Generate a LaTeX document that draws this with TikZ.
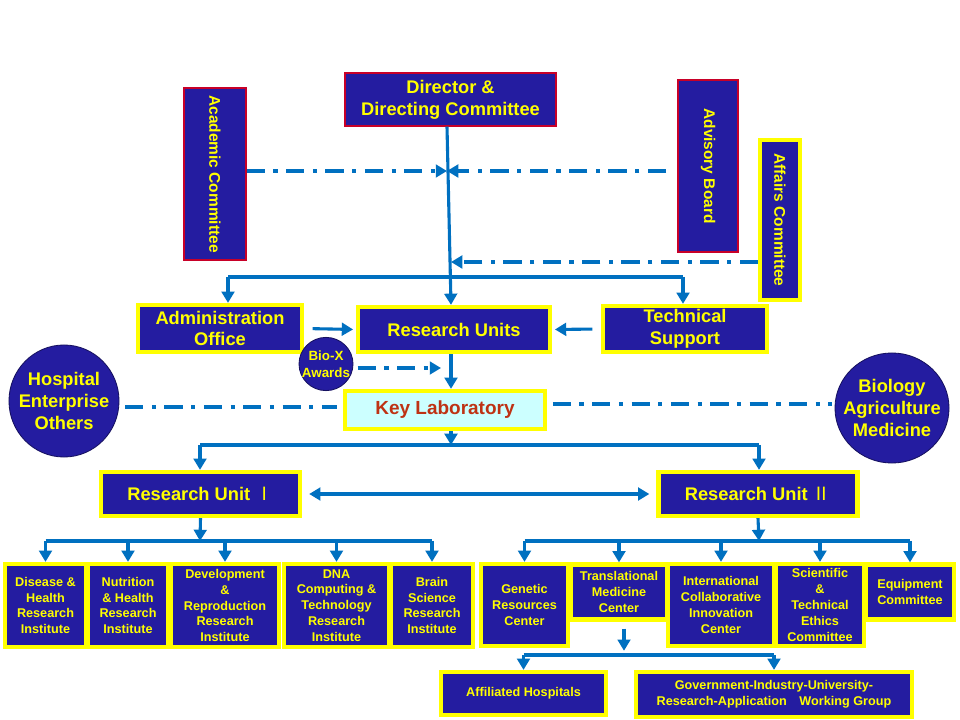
\documentclass[tikz,border=0pt]{standalone}
\usepackage{fontspec}
\setmainfont{Liberation Sans}
\newfontfamily\cjk{Noto Sans CJK SC}
\usetikzlibrary{arrows.meta,shapes.geometric}

\definecolor{boxblue}{RGB}{36,28,160}
\definecolor{boxyel}{RGB}{255,255,0}
\definecolor{boxred}{RGB}{200,0,40}
\definecolor{lineblue}{RGB}{0,112,192}
\definecolor{keycyan}{RGB}{204,255,255}
\definecolor{keyred}{RGB}{190,50,20}

\tikzset{
  blk/.style={draw=boxyel, line width=3pt, fill=boxblue, text=boxyel, align=center,
    inner sep=1pt, font=\bfseries\fontsize{13}{15.5}\selectfont},
  redblk/.style={blk, draw=boxred, line width=1pt},
  smallblk/.style={blk, font=\bfseries\fontsize{9}{11.3}\selectfont},
  sideblk/.style={blk, rotate=-90, font=\bfseries\fontsize{11}{13}\selectfont},
  oval/.style={blk, ellipse, draw=boxblue!60!black, line width=0.6pt, inner sep=-6pt},
  conn/.style={draw=lineblue, line width=2.2pt, line join=round},
  arr/.style={conn, -{Triangle[width=9pt,length=8pt]}},
  dualarr/.style={conn, {Triangle[width=9pt,length=8pt]}-{Triangle[width=9pt,length=8pt]}},
  dashdot/.style={draw=lineblue, line width=2.6pt, dash pattern=on 13pt off 6pt on 3pt off 6pt},
}

\begin{document}
\begin{tikzpicture}[x=0.025cm,y=-0.025cm]
		%%%%% START %%%%%
		\useasboundingbox[fill=white] (0,0) rectangle (960,720);
		
		% top level
		\node[redblk, minimum width=5.275cm, minimum height=1.325cm] (dir) at (450.5,99.5) {Director \&\\Directing Committee};
		\node[sideblk, draw=boxred, line width=1pt, minimum width=4.3cm, minimum height=1.55cm] (acad) at (215,174) {Academic Committee};
		\node[sideblk, draw=boxred, line width=1pt, minimum width=4.3cm, minimum height=1.5cm] (advb) at (708,166) {Advisory Board};
		\node[sideblk, minimum width=4.0cm, minimum height=1.0cm] (affc) at (780,220) {Affairs Committee};
		
		\node[blk, minimum width=4.1cm, minimum height=1.175cm] (adm) at (220,328.5) {Administration\\Office};
		\node[blk, minimum width=4.8cm, minimum height=1.125cm] (ru) at (454,329.5) {Research Units};
		\node[blk, minimum width=4.1cm, minimum height=1.15cm] (tech) at (685,329) {Technical\\Support};
		
		\node[oval, font=\bfseries\fontsize{9.5}{12}\selectfont, inner sep=-14pt, minimum width=1.35cm, minimum height=1.33cm] (biox) at (326,364) {Bio-X\\Awards};
		\node[oval, minimum width=2.75cm, minimum height=2.8cm] (hosp) at (64,401) {Hospital\\Enterprise\\Others};
		\node[oval, minimum width=2.8cm, minimum height=2.75cm] (bioa) at (892,408) {Biology\\Agriculture\\Medicine};
		
		\node[blk, fill=keycyan, text=keyred, font=\bfseries\fontsize{13.5}{16}\selectfont, minimum width=5.0cm, minimum height=0.95cm] (keylab) at (445,410) {Key Laboratory};
		
		\node[blk, minimum width=4.975cm, minimum height=1.1cm] (rui) at (200.5,494) {Research Unit~{\cjk\mdseries Ⅰ}};
		\node[blk, minimum width=4.975cm, minimum height=1.1cm] (ruii) at (758,494) {Research Unit~{\cjk\mdseries Ⅱ}};
		
		% research unit I
		\node[smallblk, minimum width=2.025cm, minimum height=2.075cm] (dis) at (45.5,605.5) {Disease \&\\Health\\Research\\Institute};
		\node[smallblk, minimum width=2.0cm, minimum height=2.075cm] (nut) at (128,605.5) {Nutrition\\\& Health\\Research\\Institute};
		\node[smallblk, minimum width=2.7cm, minimum height=2.075cm] (dev) at (225,605.5) {Development\\\&\\Reproduction\\Research\\Institute};
		\node[smallblk, minimum width=2.625cm, minimum height=2.075cm] (dna) at (336.5,605.5) {DNA\\Computing \&\\Technology\\Research\\Institute};
		\node[smallblk, minimum width=2.05cm, minimum height=2.075cm] (brain) at (432,605.5) {Brain\\Science\\Research\\Institute};
		
		% research unit II
		\node[smallblk, minimum width=2.175cm, minimum height=2.05cm] (gen) at (524.5,605) {Genetic\\Resources\\Center};
		\node[smallblk, minimum width=2.4cm, minimum height=1.375cm] (tmc) at (619,592) {Translational\\Medicine\\Center};
		\node[smallblk, minimum width=2.65cm, minimum height=2.05cm] (icic) at (721,605) {International\\Collaborative\\Innovation\\Center};
		\node[smallblk, minimum width=2.2cm, minimum height=2.05cm] (ethic) at (820,605) {Scientific\\\&\\Technical\\Ethics\\Committee};
		\node[smallblk, minimum width=2.2cm, minimum height=1.375cm] (equip) at (910,592) {Equipment\\Committee};
		
		\node[smallblk, minimum width=4.125cm, minimum height=1.075cm] (affh) at (523.5,693.5) {Affiliated Hospitals};
		\node[smallblk, minimum width=6.9cm, minimum height=1.125cm] (gov) at (774,694.5) {Government-Industry-University-\\Research-Application\quad Working Group};
		
		% connectors, top
		\coordinate (mc) at (447,171);
		\coordinate (ma) at (451,262);
		\draw[arr] (dir.south -| mc) -- (ru.north -| ma);
		\draw[dashdot, -{Triangle[width=9pt,length=8pt]}] (acad.north |- mc) -- (mc);
		\draw[dashdot, -{Triangle[width=9pt,length=8pt]}, shorten <=8pt] (advb.south |- mc) -- (mc);
		\draw[dashdot, -{Triangle[width=9pt,length=8pt]}] (affc.south |- ma) -- (ma);
		
		\coordinate (ta) at (228,277);
		\coordinate (tb) at (683,277);
		\draw[conn] (ta) -- (tb);
		\draw[arr] (ta) -- (ta |- adm.north);
		\draw[arr] (tb) -- (tb |- tech.north);
		\draw[arr, shorten <=6pt, shorten >=2pt] (adm.east) -- (ru.west);
		\draw[arr, shorten <=6pt, shorten >=2pt] (tech.west) -- (ru.east);
		
		\coordinate (mb) at (441,368);
		\draw[dashdot, -{Triangle[width=9pt,length=8pt]}, shorten <=3pt] (biox.east |- mb) -- (mb);
		\draw[arr] (ru.south -| ma) -- (ma |- keylab.north);
		\draw[dashdot, shorten <=4pt, shorten >=4pt] (hosp.east |- 0,407) -- (keylab.west |- 0,407);
		\draw[dashdot, shorten <=4pt, shorten >=2pt] (keylab.east |- 0,404) -- (bioa.west |- 0,404);
		
		% connectors, middle
		\coordinate (sa) at (200,445);
		\coordinate (sb) at (759,445);
		\draw[conn] (sa) -- (sb);
		\draw[arr] (keylab.south -| ma) -- (ma |- sa);
		\draw[arr] (sa) -- (sa |- rui.north);
		\draw[arr] (sb) -- (sb |- ruii.north);
		\draw[dualarr, shorten <=5pt, shorten >=5pt] (rui.east) -- (ruii.west);
		
		% connectors, bottom
		\coordinate (ua) at (200,541);
		\coordinate (ub) at (759,541);
		\draw[arr] (rui.south) -- (ua);
		\draw[arr] (ruii.south) -- (ub);
		\draw[conn] (dis.north |- ua) -- (brain.north |- ua);
		\draw[conn] (gen.north |- ub) -- (equip.north |- ub);
		\foreach \n in {dis,nut,dev,dna,brain} \draw[arr] (\n.north |- ua) -- (\n.north);
		\foreach \n in {gen,tmc,icic,ethic,equip} \draw[arr] (\n.north |- ub) -- (\n.north);
		
		\coordinate (va) at (624,655);
		\draw[arr, shorten <=5pt] (tmc.south -| va) -- ([yshift=3]va);
		\draw[conn] (affh.north |- va) -- (gov.north |- va);
		\draw[arr] (affh.north |- va) -- (affh.north);
		\draw[arr] (gov.north |- va) -- (gov.north);
		
		%%%%% END %%%%%
\end{tikzpicture}
\end{document}
